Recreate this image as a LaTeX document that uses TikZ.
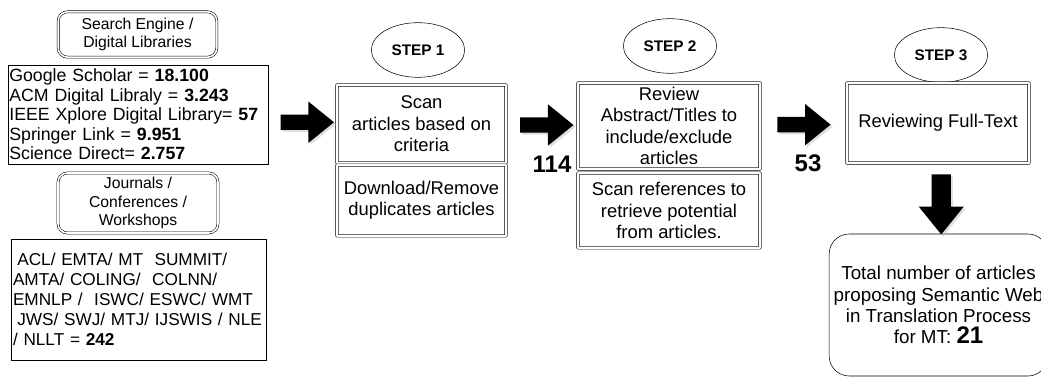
\documentclass[tikz,border=0pt]{standalone}
\usepackage{fontspec}
\setmainfont{Liberation Sans}
\usetikzlibrary{shapes,shadows,calc}

\begin{document}
\begin{tikzpicture}[x=0.75pt,y=-0.75pt]
        \tikzstyle{srcbox}=[draw,double,double distance=1.2pt,rounded corners=7pt,align=center,inner sep=0pt,font=\fontsize{11.8}{14}\selectfont]
        \tikzstyle{listbox}=[draw,align=left,inner xsep=1pt,inner ysep=0pt,font=\fontsize{13.3}{14.6}\selectfont]
        \tikzstyle{stepbox}=[draw,double,double distance=1.5pt,rounded corners=0.2pt,align=center,inner sep=0pt,font=\fontsize{13.8}{16}\selectfont]
        \tikzstyle{steplabel}=[draw,ellipse,minimum width=70pt,minimum height=41pt,inner sep=0pt,font=\bfseries\fontsize{11.5}{12}\selectfont]
        \tikzstyle{blockarrow}=[single arrow,fill=black,inner xsep=0pt,inner ysep=5.6pt,single arrow tip angle=78,minimum height=40pt,minimum width=31pt,single arrow head extend=9.75pt,drop shadow={shadow xshift=1.5pt,shadow yshift=-1.5pt,fill=black!25}]
        \tikzstyle{count}=[font=\bfseries\fontsize{18}{18}\selectfont]
        \useasboundingbox (0,0) rectangle (1041,377);
        \node[srcbox,minimum width=119pt,minimum height=34pt] (engines) at (137.5,34.5) {Search Engine /\\Digital Libraries};
        \node[listbox,text width=193pt,minimum height=74pt] (engcount) at (138,114.5) {Google Scholar = \textbf{18.100}\\ACM Digital Libraly = \textbf{3.243}\\IEEE Xplore Digital Library= \textbf{57}\\Springer Link = \textbf{9.951}\\Science Direct= \textbf{2.757}};
        \node[srcbox,minimum width=120pt,minimum height=45pt] (venues) at (138,203) {Journals /\\Conferences /\\Workshops};
        \node[listbox,text width=189pt,minimum height=91pt,font=\fontsize{12.9}{15}\selectfont] (venuecount) at (139,299.5) {\hspace*{0.25em}ACL/ EMTA/ MT\ \ SUMMIT/\\AMTA/ COLING/\ \ COLNN/\\EMNLP /\ \ ISWC/ ESWC/ WMT\\\hspace*{0.25em}JWS/ SWJ/ MTJ/ IJSWIS / NLE\\/ NLLT = \textbf{242}};
        \node[steplabel] (lbl1) at (418,50) {STEP 1};
        \node[stepbox,minimum width=126.75pt,minimum height=58.5pt] (scan) at (421.5,124) {Scan\\articles based on\\criteria};
        \node[stepbox,minimum width=126.75pt,minimum height=53pt] (dedup) at (421.5,200.5) {Download/Remove\\duplicates articles};
        \node[steplabel] (lbl2) at (670,46) {STEP 2};
        \node[stepbox,minimum width=136.5pt,minimum height=64.5pt] (review) at (669,126) {Review\\Abstract/Titles to\\include/exclude\\articles};
        \node[stepbox,minimum width=136.5pt,minimum height=56pt] (refs) at (669,210.5) {Scan references to\\retrieve potential\\from articles.};
        \node[steplabel] (lbl3) at (941,55) {STEP 3};
        \node[stepbox,minimum width=136.5pt,minimum height=60pt] (fulltext) at (938,123) {Reviewing Full-Text};
        \node[draw,rounded corners=15pt,align=center,minimum width=164pt,minimum height=106.5pt,font=\fontsize{14.1}{16}\selectfont] (total) at (938.5,305) {Total number of articles\\proposing Semantic Web\\in Translation Process\\for MT: {\bfseries\fontsize{18}{18}\selectfont 21}};
        \node[blockarrow] (arr1) at ($(engcount.east)!.5!(scan.west)+(0,3)$) {};
        \node[blockarrow] (arr2) at ($(scan.east)!.5!(review.west)$) {};
        \node[blockarrow] (arr3) at ($(review.east)!.45!(fulltext.west)$) {};
        \node[blockarrow,shape border rotate=270,minimum height=45pt,minimum width=33pt,inner sep=7pt] (arr4) at ($(fulltext.south)!.5!(total.north)+(3,0)$) {};
        \node[count] (n114) at (552,164) {114};
        \node[count] (n53) at (808,163) {53};
\end{tikzpicture}
\end{document}
